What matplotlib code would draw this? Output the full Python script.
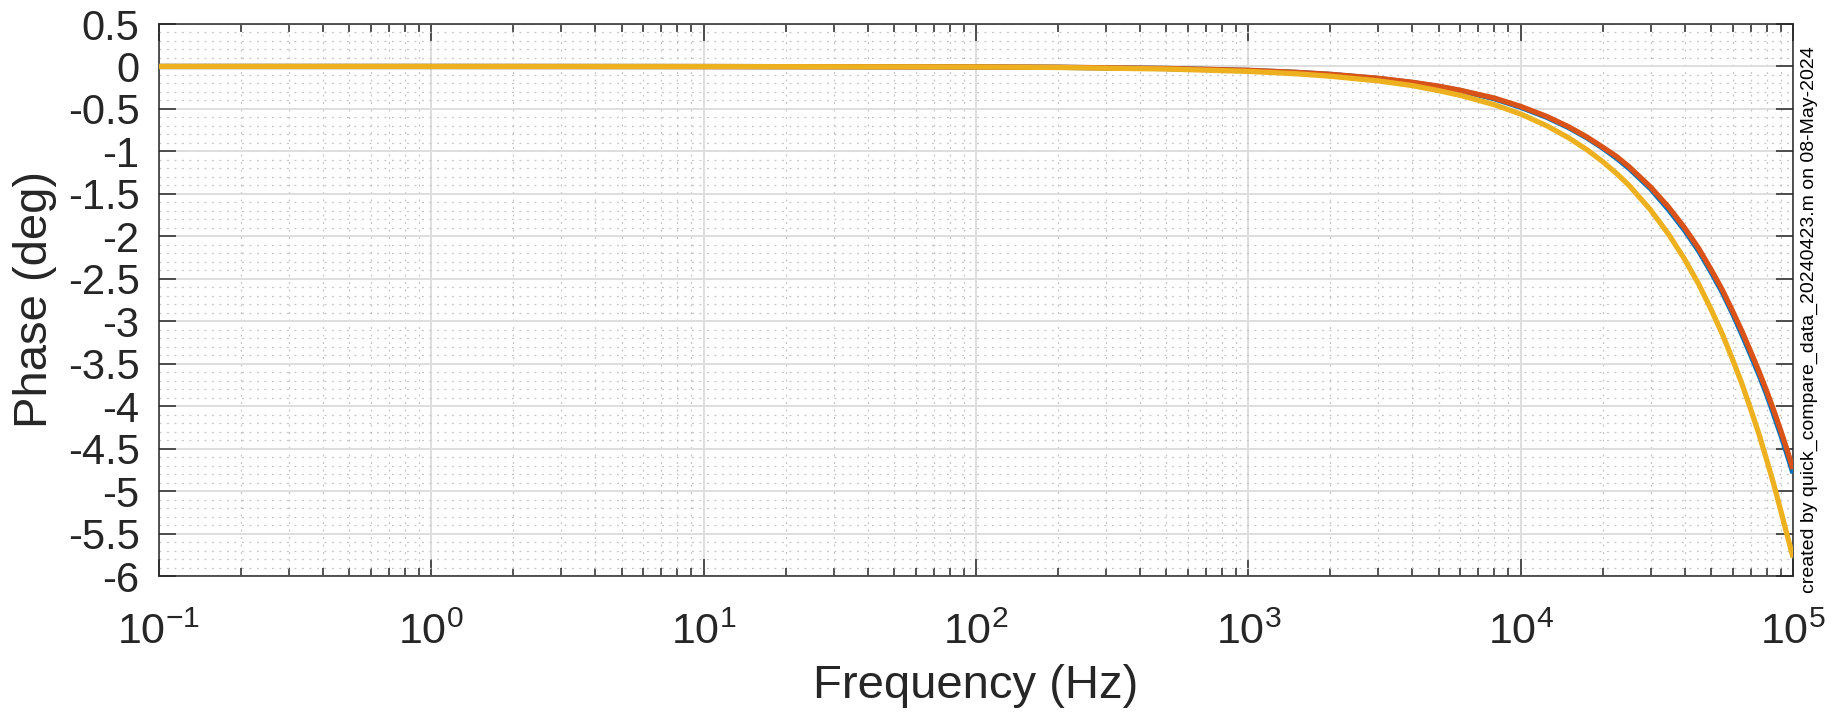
import numpy as np
import matplotlib
matplotlib.use("Agg")
import matplotlib.pyplot as plt
from matplotlib.ticker import LogLocator, MultipleLocator, FixedLocator

# values
freq = [0.1, 1, 10, 100, 200, 500, 1000, 1500, 2000, 3000, 4000, 5000, 6000, 8000,
        10000, 12500, 15000, 17500, 20000, 22500, 25000, 30000, 35000, 40000, 45000, 50000,
        55000, 60000, 65000, 70000, 75000, 80000, 85000, 90000, 95000, 100000]

phase_blue = [0.0, 0.0, -0.001, -0.005, -0.01, -0.024, -0.047, -0.071, -0.094, -0.142,
              -0.19, -0.236, -0.285, -0.38, -0.48, -0.60, -0.72, -0.84, -0.96, -1.08,
              -1.20, -1.44, -1.69, -1.93, -2.17, -2.42, -2.66, -2.91, -3.16, -3.40,
              -3.63, -3.86, -4.10, -4.33, -4.56, -4.79]

phase_red = [0.0, 0.0, -0.001, -0.005, -0.009, -0.023, -0.045, -0.069, -0.092, -0.139,
             -0.186, -0.232, -0.28, -0.372, -0.47, -0.59, -0.71, -0.83, -0.95, -1.06,
             -1.18, -1.42, -1.66, -1.90, -2.14, -2.39, -2.63, -2.88, -3.12, -3.36,
             -3.59, -3.82, -4.05, -4.28, -4.51, -4.74]

phase_yellow = [0.0, 0.0, -0.001, -0.006, -0.012, -0.03, -0.058, -0.086, -0.115, -0.17,
                -0.225, -0.285, -0.34, -0.45, -0.56, -0.70, -0.84, -0.98, -1.12, -1.26,
                -1.40, -1.69, -1.98, -2.27, -2.56, -2.86, -3.15, -3.45, -3.74, -4.04,
                -4.33, -4.63, -4.92, -5.22, -5.51, -5.78]

y_ticks = [0.5, 0, -0.5, -1, -1.5, -2, -2.5, -3, -3.5, -4, -4.5, -5, -5.5, -6]
x_tick_labels = ["$10^{-1}$", "$10^{0}$", "$10^{1}$", "$10^{2}$", "$10^{3}$", "$10^{4}$", "$10^{5}$"]
note = "created by quick_compare_data_20240423.m on 08-May-2024"

plt.rcParams["font.family"] = ["Liberation Sans", "DejaVu Sans"]
plt.rcParams["mathtext.fontset"] = "custom"
plt.rcParams["mathtext.rm"] = "Liberation Sans"
plt.rcParams["mathtext.it"] = "Liberation Sans"
plt.rcParams["mathtext.default"] = "regular"
plt.rcParams["axes.unicode_minus"] = False

fg = "#262626"
fig = plt.figure(figsize=(18.43, 7.13), dpi=100)
ax = fig.add_axes([159 / 1843, 1 - 576 / 713, (1793 - 159) / 1843, (576 - 24) / 713])

ax.plot(freq, phase_blue, color="#0072BD", lw=3.8, solid_capstyle="butt", zorder=3)
ax.plot(freq, phase_red, color="#D95319", lw=3.8, solid_capstyle="butt", zorder=3)
ax.plot(freq, phase_yellow, color="#EDB120", lw=3.8, solid_capstyle="butt", zorder=3)

ax.set_xscale("log")
ax.set_xlim(0.1, 1e5)
ax.set_ylim(-6, 0.5)

ax.xaxis.set_major_locator(FixedLocator([0.1, 1, 10, 100, 1e3, 1e4, 1e5]))
ax.set_xticklabels(x_tick_labels)
ax.xaxis.set_minor_locator(LogLocator(base=10, subs=np.arange(2, 10), numticks=20))
ax.xaxis.set_minor_formatter(plt.NullFormatter())
ax.yaxis.set_major_locator(FixedLocator(y_ticks))
ax.set_yticklabels([f"{v:g}" for v in y_ticks])
ax.yaxis.set_minor_locator(MultipleLocator(0.1))

ax.grid(which="major", color="#dedede", lw=1.4, ls="-", zorder=0)
ax.grid(which="minor", color="#c4c4c4", lw=0.9, ls=(0, (1.5, 4.5)), zorder=0)
ax.set_axisbelow(True)

ax.tick_params(which="both", direction="in", top=True, right=True, colors=fg, width=1.1)
ax.tick_params(axis="y", which="major", length=12, pad=14, labelsize=30)
ax.tick_params(axis="x", which="major", length=12, pad=26, labelsize=31)
ax.tick_params(axis="y", which="minor", length=0)
ax.tick_params(axis="x", which="minor", length=6)
for s in ax.spines.values():
    s.set_color(fg)
    s.set_linewidth(1.1)

ax.set_xlabel("Frequency (Hz)", fontsize=34, color=fg, labelpad=8)
ax.set_ylabel("Phase (deg)", fontsize=34, color=fg, labelpad=8)

fig.text(1809 / 1843, 1 - 593 / 713, note, rotation=90, ha="center", va="bottom",
         fontsize=14, color="black")

fig.savefig("out.png", dpi=100)
